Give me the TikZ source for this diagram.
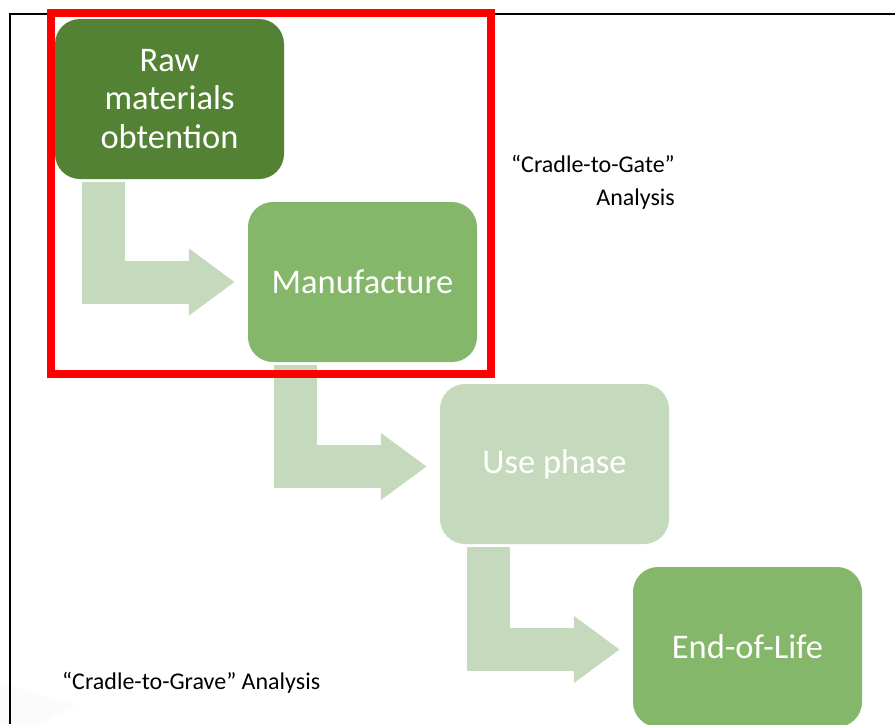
\documentclass[tikz,border=0pt]{standalone}
\usepackage{fontspec}
\setmainfont{Carlito}
\usetikzlibrary{arrows.meta}

\definecolor{darkgreen}{HTML}{548235}
\definecolor{midgreen}{HTML}{84B76A}
\definecolor{palegreen}{HTML}{C5D9BC}
\definecolor{framered}{HTML}{FF0000}

\tikzset{
  phase/.style={rectangle, rounded corners=25pt, minimum width=229pt, minimum height=160pt,
    inner sep=0pt, text=white, align=center, font=\fontsize{34.5}{38.5}\selectfont},
  flow/.style={draw=palegreen, line width=43pt, line join=miter,
    -{Triangle[length=46pt,width=64pt]}, shorten <=3pt, shorten >=13pt},
  note/.style={font=\fontsize{24}{33}\selectfont, inner sep=0pt}
}

\begin{document}
\begin{tikzpicture}[x=1pt,y=-1pt]
\useasboundingbox (0,0) rectangle (895,724);
\fill[white] (0,0) rectangle (895,724);
\fill[gray!3] (0,683)--(75,705)--(40,724)--(0,724)--cycle;
\draw[line width=1.5pt] (10,724)--(10,14)--(895,14);
% the four stages
\node[phase, fill=darkgreen] (raw) at (169.5,99) {Raw\\materials\\obtention};
\node[phase, fill=midgreen] (manuf) at (362.5,282) {Manufacture};
\node[phase, fill=palegreen] (use) at (554.5,464) {Use phase};
\node[phase, fill=midgreen] (eol) at (747.5,647) {End-of-Life};
% bent arrows
\draw[flow] ([xshift=48.5pt]raw.south west) |- (manuf.west);
\draw[flow] ([xshift=47.5pt]manuf.south west) |- ([yshift=-2.5pt]use.west);
\draw[flow] ([xshift=48.5pt]use.south west) |- ([yshift=-2.5pt]eol.west);
% cradle-to-gate frame
\draw[framered, line width=8pt] (51,12.5) rectangle (491,373.5);
\node[note, anchor=east, align=right] (gate) at (675,182) {“Cradle-to-Gate”\\Analysis};
\node[note, anchor=west] (grave) at (62,683) {“Cradle-to-Grave” Analysis};
\end{tikzpicture}
\end{document}
